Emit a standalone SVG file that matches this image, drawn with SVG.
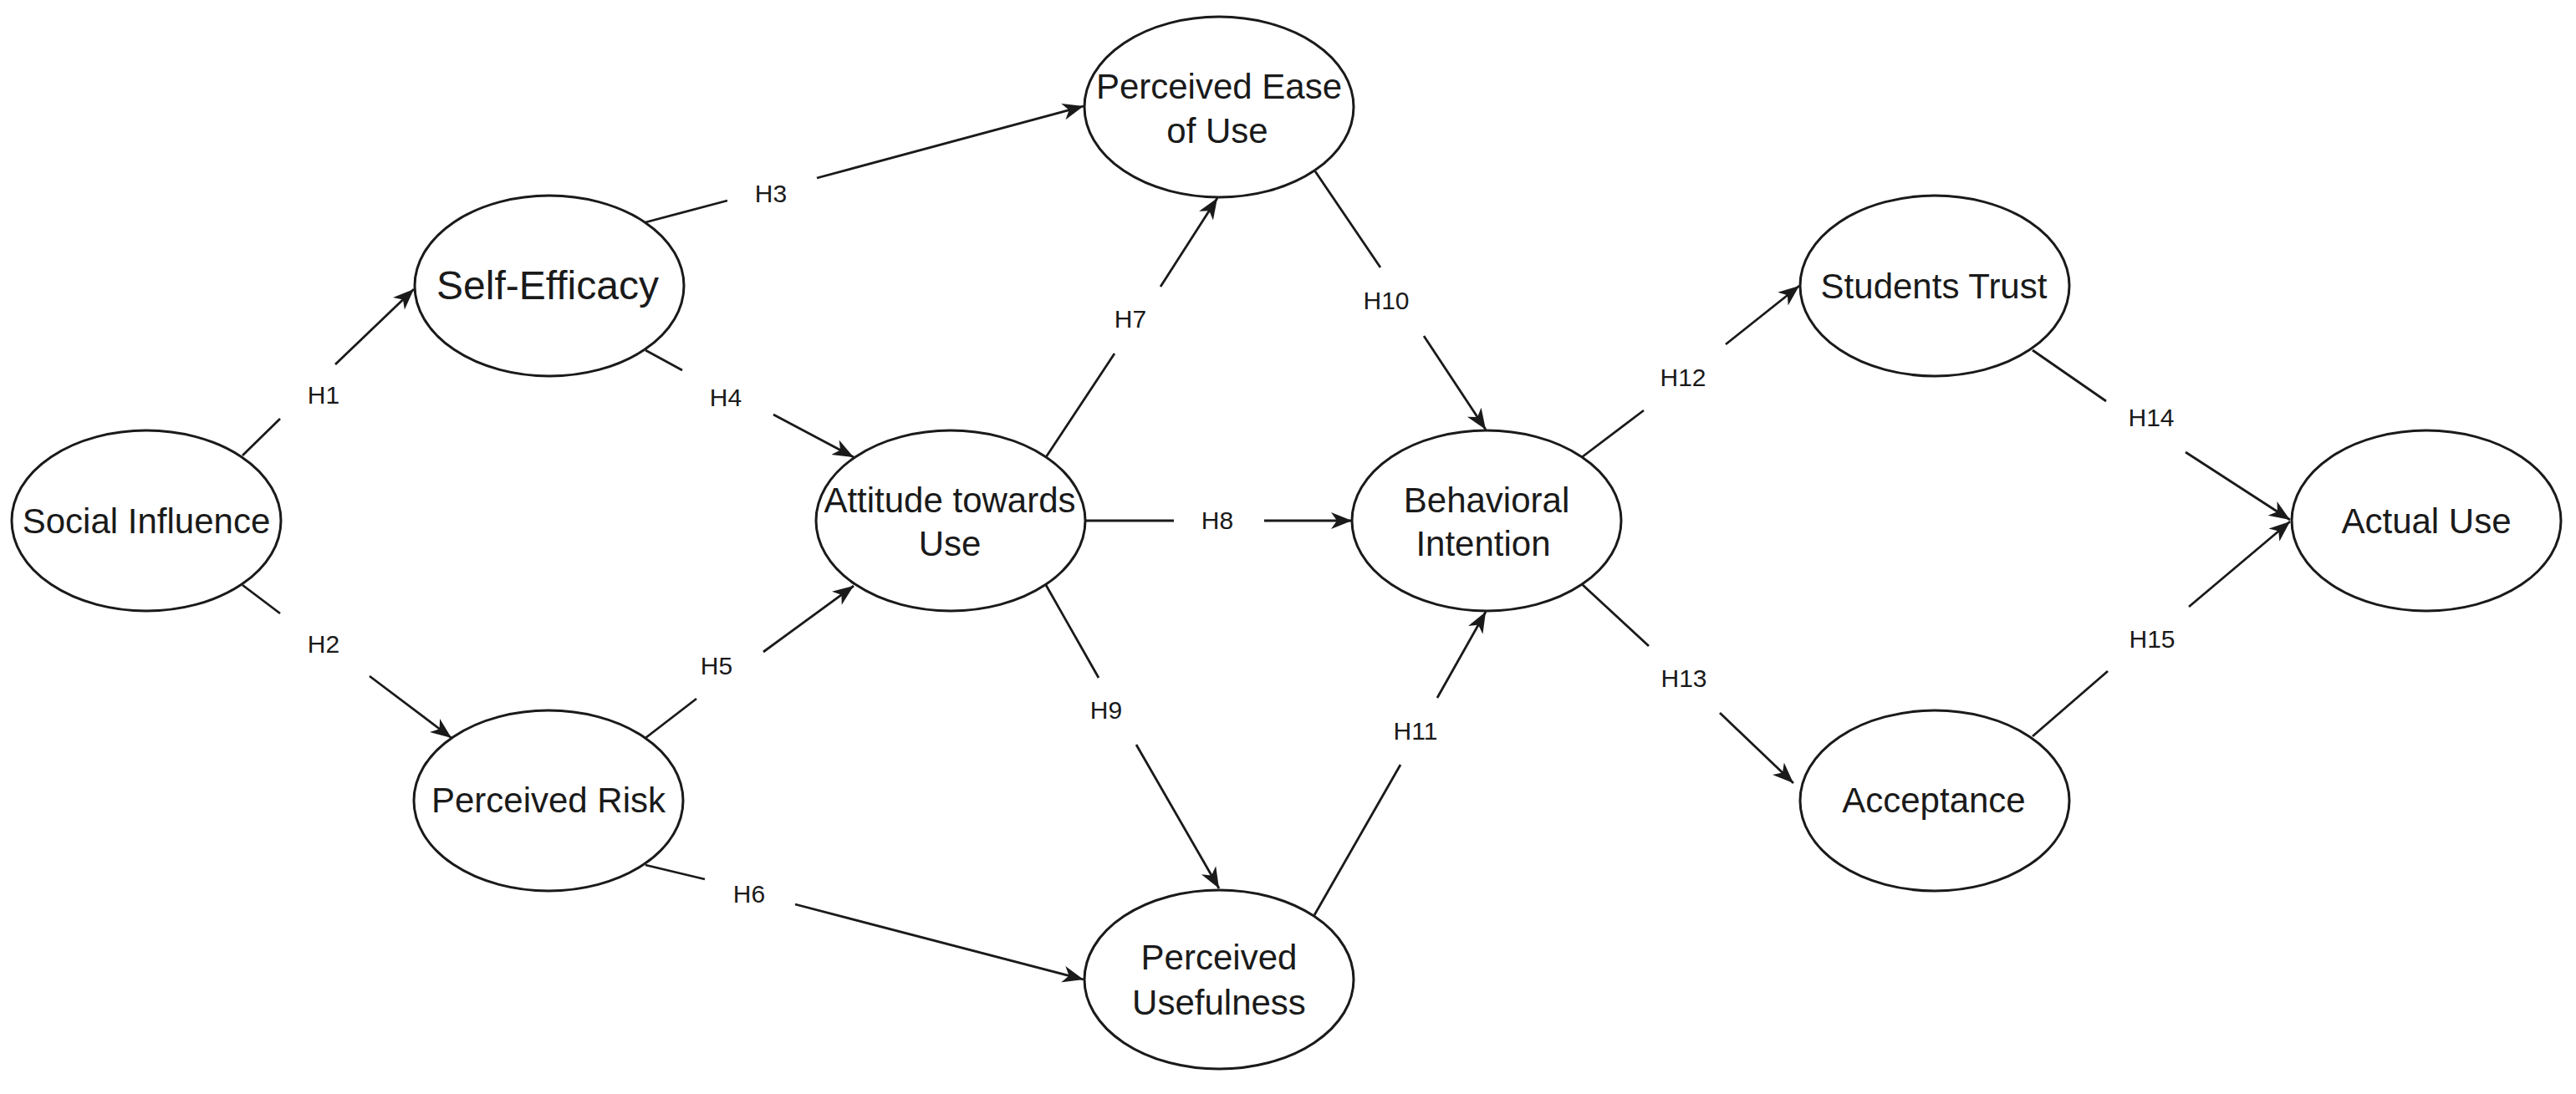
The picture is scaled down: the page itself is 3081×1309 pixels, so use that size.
<svg xmlns="http://www.w3.org/2000/svg" width="3081" height="1309" viewBox="0 0 3081 1309">
<style>
.node ellipse{fill:#fff;stroke:#1a1a1a;stroke-width:3}
.node text{font-family:"Liberation Sans",Arial,sans-serif;font-size:42px;fill:#1a1a1a;text-anchor:middle}
.edge path{fill:none;stroke:#1a1a1a;stroke-width:2.8;marker-end:url(#arr)}
.lbl{font-family:"Liberation Sans",Arial,sans-serif;font-size:30px;fill:#1a1a1a;text-anchor:middle}
</style>
<defs>
<marker id="arr" markerUnits="userSpaceOnUse" markerWidth="26" markerHeight="22" viewBox="0 0 26 22" refX="25" refY="11" orient="auto">
<path d="M0,1 L25,11 L0,21 L7,11 Z" fill="#1a1a1a"/>
</marker>
</defs>
<rect width="3081" height="1309" fill="#fff"/>
<g id="connectors" class="edge">
<path id="e-h1" d="M290,545 L335,501 M401,436 L495,346"/>
<path id="e-h2" d="M290,700 L335,734 M442,809 L540,883"/>
<path id="e-h3" d="M772,266 L870,240 M977,213 L1296,127"/>
<path id="e-h4" d="M772,419 L816,443 M925,496 L1021,547"/>
<path id="e-h5" d="M772,883 L833,836 M913,780 L1021,701"/>
<path id="e-h6" d="M772,1035 L843,1052 M951,1082 L1296,1172"/>
<path id="e-h7" d="M1251,547 L1333,423 M1388,343 L1456,237"/>
<path id="e-h8" d="M1298,623 L1404,623 M1512,623 L1617,623"/>
<path id="e-h9" d="M1251,700 L1314,811 M1359,891 L1458,1063"/>
<path id="e-h10" d="M1573,205 L1651,320 M1703,402 L1777,514"/>
<path id="e-h11" d="M1572,1095 L1675,915 M1719,835 L1777,732"/>
<path id="e-h12" d="M1892,547 L1966,491 M2064,412 L2152,342"/>
<path id="e-h13" d="M1892,699 L1972,773 M2057,853 L2145,937"/>
<path id="e-h14" d="M2431,419 L2519,480 M2614,541 L2739,622"/>
<path id="e-h15" d="M2431,881 L2521,803 M2618,726 L2739,624"/>
<g id="edge-labels">
<text class="lbl" x="387" y="483">H1</text>
<text class="lbl" x="387" y="781">H2</text>
<text class="lbl" x="922" y="242">H3</text>
<text class="lbl" x="868" y="486">H4</text>
<text class="lbl" x="857" y="807">H5</text>
<text class="lbl" x="896" y="1080">H6</text>
<text class="lbl" x="1352" y="392">H7</text>
<text class="lbl" x="1456" y="633">H8</text>
<text class="lbl" x="1323" y="860">H9</text>
<text class="lbl" x="1658" y="370">H10</text>
<text class="lbl" x="1693" y="885">H11</text>
<text class="lbl" x="2013" y="462">H12</text>
<text class="lbl" x="2014" y="822">H13</text>
<text class="lbl" x="2573" y="510">H14</text>
<text class="lbl" x="2574" y="775">H15</text>
</g>
</g>
<g id="social-influence" class="node"><ellipse cx="175" cy="623" rx="161" ry="108"/><text x="175" y="638">Social Influence</text></g>
<g id="self-efficacy" class="node"><ellipse cx="657" cy="342" rx="161" ry="108"/><text x="655" y="358" style="font-size:48px">Self-Efficacy</text></g>
<g id="perceived-risk" class="node"><ellipse cx="656" cy="958" rx="161" ry="108"/><text x="656" y="972">Perceived Risk</text></g>
<g id="attitude" class="node"><ellipse cx="1137" cy="623" rx="161" ry="108"/><text x="1136" y="613">Attitude towards</text><text x="1136" y="665">Use</text></g>
<g id="peou" class="node"><ellipse cx="1458" cy="128" rx="161" ry="108"/><text x="1458" y="118">Perceived Ease</text><text x="1456" y="171">of Use</text></g>
<g id="pu" class="node"><ellipse cx="1458" cy="1172" rx="161" ry="107"/><text x="1458" y="1160">Perceived</text><text x="1458" y="1214">Usefulness</text></g>
<g id="behavioral-intention" class="node"><ellipse cx="1778" cy="623" rx="161" ry="108"/><text x="1778" y="613">Behavioral</text><text x="1774" y="665">Intention</text></g>
<g id="students-trust" class="node"><ellipse cx="2314" cy="342" rx="161" ry="108"/><text x="2313" y="357">Students Trust</text></g>
<g id="acceptance" class="node"><ellipse cx="2314" cy="958" rx="161" ry="108"/><text x="2313" y="972">Acceptance</text></g>
<g id="actual-use" class="node"><ellipse cx="2902" cy="623" rx="161" ry="108"/><text x="2902" y="638">Actual Use</text></g>
</svg>
